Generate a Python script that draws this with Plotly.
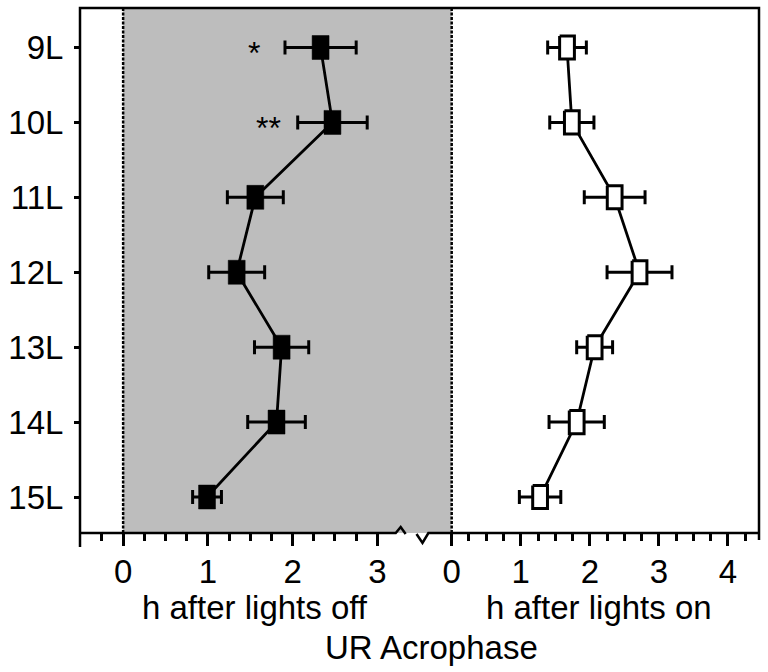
import plotly.graph_objects as go

# acrophase of urine rhythm (h), one row per photoperiod
photoperiods = ['9L', '10L', '11L', '12L', '13L', '14L', '15L']
after_off = [2.33, 2.47, 1.56, 1.34, 1.87, 1.81, 0.99]
after_off_err = [0.42, 0.41, 0.33, 0.33, 0.32, 0.34, 0.17]
after_on = [1.67, 1.74, 2.36, 2.72, 2.07, 1.81, 1.28]
after_on_err = [0.28, 0.32, 0.44, 0.47, 0.26, 0.40, 0.30]
stars = {'9L': '*', '10L': '**'}
star_x = {'9L': 1.55, '10L': 1.72}

FONT = 'Liberation Sans, Arial, sans-serif'
LEFT_RANGE = [-0.509, 3.877]
RIGHT_RANGE = [0, 4.45]
Y_RANGE = [6.48, -0.527]
SPLIT = 0.5474

yy = list(range(len(photoperiods)))


def boxes(xs, hw, hh):
    # closed rectangles around each point, separated by None
    px, py = [], []
    for x, y in zip(xs, yy):
        px += [x - hw, x + hw, x + hw, x - hw, x - hw, None]
        py += [y - hh, y - hh, y + hh, y + hh, y - hh, None]
    return px, py


fig = go.Figure()

err_style = dict(type='data', thickness=3, width=7, color='black')

fig.add_trace(go.Scatter(x=after_off, y=yy, mode='lines', line=dict(color='black', width=2.8),
                         error_x=dict(array=after_off_err, **err_style), xaxis='x', yaxis='y',
                         showlegend=False, hoverinfo='skip'))
bx, by = boxes(after_off, 0.1, 0.16)
fig.add_trace(go.Scatter(x=bx, y=by, mode='lines', fill='toself', fillcolor='black',
                         line=dict(color='black', width=0.5), xaxis='x', yaxis='y',
                         showlegend=False, hoverinfo='skip'))

fig.add_trace(go.Scatter(x=after_on, y=yy, mode='lines', line=dict(color='black', width=2.8),
                         error_x=dict(array=after_on_err, **err_style), xaxis='x2', yaxis='y',
                         showlegend=False, hoverinfo='skip'))
bx, by = boxes(after_on, 0.107, 0.154)
fig.add_trace(go.Scatter(x=bx, y=by, mode='lines', fill='toself', fillcolor='white',
                         line=dict(color='black', width=3), xaxis='x2', yaxis='y',
                         showlegend=False, hoverinfo='skip'))

tick_font = dict(family=FONT, size=33, color='black')


def quarter_ticks(lo, hi):
    out = []
    v = lo
    while v <= hi + 1e-9:
        if abs(v - round(v)) > 1e-9:
            out.append(round(v, 2))
        v += 0.25
    return out


fig.update_layout(
    width=768, height=672,
    margin=dict(l=73, r=9, t=8, b=139),
    paper_bgcolor='white', plot_bgcolor='white',
    font=tick_font,
    xaxis=dict(domain=[0, SPLIT], range=LEFT_RANGE, tickvals=[0, 1, 2, 3],
               ticks='outside', ticklen=12, tickwidth=2.5, tickcolor='black',
               showgrid=False, zeroline=False, showline=False, tickfont=tick_font,
               ticklabelstandoff=-3,
               minor=dict(tickvals=quarter_ticks(-0.25, 2.75), ticks='outside', ticklen=7,
                          tickwidth=2.5, tickcolor='black', showgrid=False),
               anchor='y'),
    xaxis2=dict(domain=[SPLIT, 1], range=RIGHT_RANGE, tickvals=[0, 1, 2, 3, 4],
                ticks='outside', ticklen=12, tickwidth=2.5, tickcolor='black',
                showgrid=False, zeroline=False, showline=False, tickfont=tick_font,
                ticklabelstandoff=-3,
                minor=dict(tickvals=quarter_ticks(0.25, 4.25), ticks='outside', ticklen=7,
                           tickwidth=2.5, tickcolor='black', showgrid=False),
                anchor='y'),
    yaxis=dict(range=Y_RANGE, tickvals=yy, ticktext=photoperiods, ticks='outside',
               ticklen=5, tickwidth=2.5, tickcolor='black', showgrid=False, zeroline=False,
               showline=False, tickfont=tick_font, ticklabelstandoff=4),
)

# shaded "lights off" panel and the dashed light transitions
fig.add_shape(type='rect', xref='x', yref='paper', x0=0, x1=LEFT_RANGE[1], y0=0, y1=1,
              fillcolor='#bdbdbd', line=dict(width=0), layer='below')
dash_line = dict(color='black', width=2.5, dash='3px,1.5px')
fig.add_shape(type='line', xref='x', yref='paper', x0=0, x1=0, y0=0, y1=1, line=dash_line)
fig.add_shape(type='line', xref='paper', yref='paper', x0=SPLIT, x1=SPLIT, y0=0, y1=1,
              line=dash_line)

# frame with broken bottom axis
frame = dict(color='black', width=2.5)
fig.add_shape(type='path', xref='paper', yref='paper',
              path='M 0 -0.0267 L 0 1 L 1 1 L 1 -0.0133', line=frame)
fig.add_shape(type='path', xref='paper', yref='paper',
              path='M 0 0 L 0.4650 0 L 0.4723 0.0114 L 0.4796 -0.0019', line=frame)
fig.add_shape(type='path', xref='paper', yref='paper',
              path='M 0.4956 -0.0019 L 0.5044 -0.019 L 0.5131 0 L 1 0', line=frame)

for k, s in stars.items():
    fig.add_annotation(x=star_x[k], y=photoperiods.index(k), xref='x', yref='y', text=s,
                       showarrow=False, yshift=-6, font=dict(family=FONT, size=32, color='black'))

title_font = dict(family=FONT, size=33, color='black')
fig.add_annotation(x=0.2581, y=-0.142, xref='paper', yref='paper', text='h after lights off',
                   showarrow=False, font=title_font, xanchor='center', yanchor='middle')
fig.add_annotation(x=0.7638, y=-0.142, xref='paper', yref='paper', text='h after lights on',
                   showarrow=False, font=title_font, xanchor='center', yanchor='middle')
fig.add_annotation(x=0.5175, y=-0.219, xref='paper', yref='paper', text='UR Acrophase',
                   showarrow=False, font=title_font, xanchor='center', yanchor='middle')

# the page body has a default 8px margin; drop it so the figure sits at the window corner
fig.write_html('out.html', config={'displayModeBar': False},
               post_script="document.body.style.margin = '0';")
